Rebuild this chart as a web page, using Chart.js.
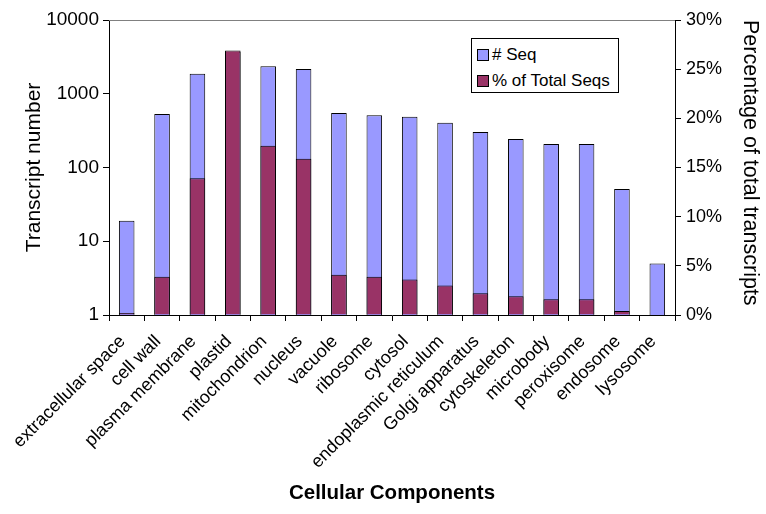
<!DOCTYPE html>
<html>
<head>
<meta charset="utf-8">
<script src="https://cdn.jsdelivr.net/npm/chart.js@4/dist/chart.umd.min.js"></script>
<style>
  html, body { margin: 0; padding: 0; background: #fff; }
  #wrap { position: relative; width: 766px; height: 514px; }
  #legend {
    position: absolute; left: 471px; top: 38px; width: 146px; height: 53px;
    border: 1px solid #000; background: #fff;
    font-family: "Liberation Sans", Arial, Helvetica, sans-serif; font-size: 17px; color: #000;
  }
  .item { position: absolute; left: 5px; height: 20px; line-height: 20px; white-space: nowrap; }
  .sw { display: inline-block; width: 10px; height: 10px; border: 1px solid #000; margin-right: 3px; vertical-align: -1px; }
</style>
</head>
<body>
<div id="wrap">
  <canvas id="c" width="766" height="514"></canvas>
  <div id="legend">
    <div class="item" style="top:6px"><span class="sw" style="background:#9999FF"></span># Seq</div>
    <div class="item" style="top:32px"><span class="sw" style="background:#993366"></span>% of Total Seqs</div>
  </div>
</div>
<script>
const categories = ['extracellular space','cell wall','plasma membrane','plastid','mitochondrion','nucleus','vacuole','ribosome','cytosol','endoplasmic reticulum','Golgi apparatus','cytoskeleton','microbody','peroxisome','endosome','lysosome'];
const seqCounts = [19, 531, 1870, 3700, 2356, 2166, 548, 510, 489, 405, 303, 243, 208, 208, 51, 5];
const pctOfTotal = [0.2, 3.9, 13.9, 26.9, 17.2, 15.9, 4.1, 3.9, 3.6, 3.0, 2.2, 1.9, 1.6, 1.6, 0.4, 0.04];
const leftTicks = [1, 10, 100, 1000, 10000];
const rightTicks = [0, 5, 10, 15, 20, 25, 30];

const FONT = '"Liberation Sans", Arial, Helvetica, sans-serif';

const topLine = {
  id: 'topLine',
  afterDraw(chart) {
    const {ctx, chartArea} = chart;
    ctx.save();
    ctx.strokeStyle = '#808080';
    ctx.lineWidth = 1;
    ctx.beginPath();
    ctx.moveTo(chartArea.left, chartArea.top + 0.5);
    ctx.lineTo(chartArea.right, chartArea.top + 0.5);
    ctx.stroke();
    ctx.restore();
  }
};

new Chart(document.getElementById('c'), {
  type: 'bar',
  data: {
    labels: categories,
    datasets: [
      {
        label: '# Seq',
        data: seqCounts,
        yAxisID: 'y',
        backgroundColor: '#9999FF',
        borderColor: '#000',
        borderWidth: 1,
        grouped: false,
        order: 2,
        barPercentage: 0.44,
        categoryPercentage: 1
      },
      {
        label: '% of Total Seqs',
        data: pctOfTotal,
        yAxisID: 'y2',
        backgroundColor: '#993366',
        borderColor: '#000',
        borderWidth: 1,
        grouped: false,
        order: 1,
        barPercentage: 0.44,
        categoryPercentage: 1
      }
    ]
  },
  options: {
    responsive: false,
    animation: false,
    layout: { padding: { top: 20, left: 0, right: 0, bottom: 0 } },
    plugins: { legend: { display: false }, tooltip: { enabled: false } },
    scales: {
      x: {
        grid: { drawOnChartArea: false, drawTicks: true, tickLength: 6, color: '#000', offset: true },
        border: { display: true, color: '#000' },
        ticks: { minRotation: 45, maxRotation: 45, autoSkip: false, color: '#000', padding: 10, labelOffset: -4,
                 font: { family: FONT, size: 18 } },
        title: { display: true, text: 'Cellular Components', color: '#000',
                 font: { family: FONT, size: 20.5, weight: 'bold' }, padding: { top: 0, bottom: 8 } },
        afterFit(scale) { scale.height = 199; }
      },
      y: {
        type: 'logarithmic',
        position: 'left',
        min: 1, max: 10000,
        afterBuildTicks(scale) { scale.ticks = leftTicks.map(v => ({ value: v })); },
        grid: { drawOnChartArea: false, drawTicks: true, tickLength: 6, color: '#000' },
        border: { display: true, color: '#000' },
        ticks: { color: '#000', padding: 4, font: { family: FONT, size: 19 }, callback: v => String(v) },
        title: { display: true, text: 'Transcript number', color: '#000',
                 font: { family: FONT, size: 21 }, padding: { top: 22, bottom: 0 } },
        afterFit(scale) { scale.width = 109; }
      },
      y2: {
        type: 'linear',
        position: 'right',
        min: 0, max: 30,
        afterBuildTicks(scale) { scale.ticks = rightTicks.map(v => ({ value: v })); },
        grid: { drawOnChartArea: false, drawTicks: true, tickLength: 6, color: '#000' },
        border: { display: true, color: '#000' },
        ticks: { color: '#000', padding: 5, font: { family: FONT, size: 18 }, callback: v => v + '%' },
        title: { display: true, text: 'Percentage of total transcripts', color: '#000', align: 'end',
                 font: { family: FONT, size: 21.5 }, padding: { top: 3, bottom: 0 } },
        afterFit(scale) { scale.width = 91; }
      }
    }
  },
  plugins: [topLine]
});
</script>
</body>
</html>
